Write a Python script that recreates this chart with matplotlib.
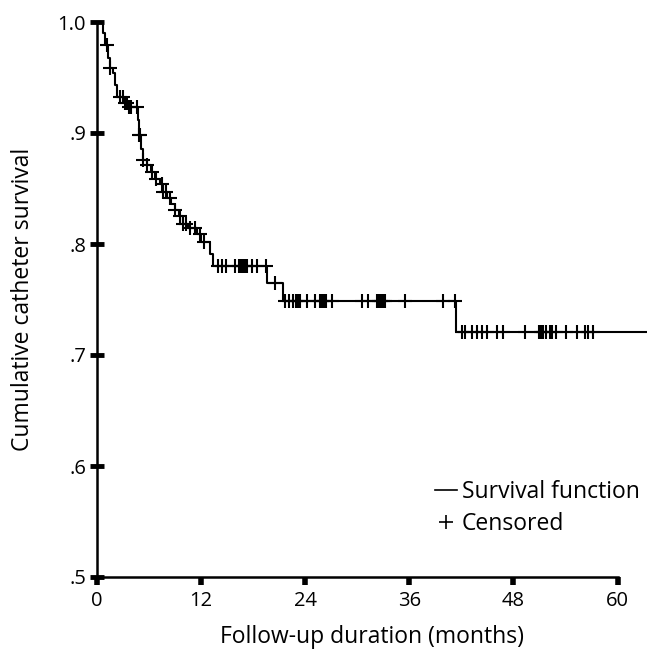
import matplotlib.pyplot as plt
from matplotlib.lines import Line2D
import numpy as np

# Kaplan-Meier steps (months, survival after the step)
event_months = [0, 0.7, 0.95, 1.25, 1.5, 1.85, 2.05, 2.3, 3.1, 3.55, 4.7, 4.85,
                5.05, 5.3, 5.75, 6.2, 6.7, 7.25, 7.6, 8.05, 8.5, 9.0, 9.45, 9.9,
                10.5, 11.5, 12.0, 13.0, 13.35, 19.6, 21.4, 41.4]
survival = [1.0, 0.990, 0.979, 0.968, 0.959, 0.954, 0.943, 0.932, 0.927, 0.923,
            0.912, 0.898, 0.886, 0.876, 0.871, 0.865, 0.859, 0.854, 0.847, 0.841,
            0.836, 0.831, 0.825, 0.818, 0.814, 0.809, 0.802, 0.791, 0.780, 0.765,
            0.749, 0.721]
last_month = 63.4

# censored observations (months)
censored_months = [1.15, 1.5, 2.65, 3.0, 3.2, 3.45, 3.7, 3.9, 4.6, 4.85, 4.95,
                   5.3, 5.75, 6.3, 6.8, 7.5, 7.6, 7.95, 8.4, 9.0, 9.55, 9.9,
                   10.25, 10.7, 11.3, 11.85, 12.3,
                   13.95, 14.4, 14.85, 15.9, 16.35, 16.6, 16.8, 17.05, 17.3,
                   17.85, 18.45, 19.5, 20.5,
                   21.65, 22.1, 22.6, 22.9, 23.15, 23.4, 24.2, 25.1, 25.7, 25.9,
                   26.15, 26.4, 27.05, 30.5, 31.2, 32.25, 32.5, 32.7, 32.95,
                   33.2, 35.5, 39.85, 41.3,
                   42.05, 42.4, 43.2, 43.8, 44.35, 44.95, 46.1, 46.75, 49.3,
                   50.9, 51.15, 51.4, 51.7, 52.2, 52.5, 52.95, 54.1, 55.35,
                   56.3, 56.55, 57.15]

x_ticks = [0, 12, 24, 36, 48, 60]
y_ticks = [0.5, 0.6, 0.7, 0.8, 0.9, 1.0]
y_tick_labels = ['.5', '.6', '.7', '.8', '.9', '1.0']

plt.rcParams['font.family'] = ['Open Sans', 'DejaVu Sans']

fig = plt.figure(figsize=(6.47, 6.54), dpi=100)
ax = fig.add_axes([97 / 647, 77 / 654, 550 / 647, 555 / 654])

t = np.array(event_months + [last_month])
s = np.array(survival + [survival[-1]])
ax.step(t, s, where='post', color='black', lw=1.5, clip_on=False, zorder=3)

idx = np.searchsorted(event_months, censored_months, side='right') - 1
cens_s = np.array(survival)[idx]
ax.plot(censored_months, cens_s, linestyle='none', marker='+', color='black',
        markersize=10, markeredgewidth=1.5, clip_on=False, zorder=3)

ax.set_xlim(0, last_month)
ax.set_ylim(0.5, 1.0)

for side in ['top', 'right']:
    ax.spines[side].set_visible(False)
ax.spines['left'].set_linewidth(1.8)
ax.spines['bottom'].set_linewidth(1.8)
ax.spines['bottom'].set_bounds(0, 60)

ax.set_xticks(x_ticks)
ax.set_xticklabels([str(v) for v in x_ticks])
ax.set_yticks(y_ticks)
ax.set_yticklabels(y_tick_labels)
ax.tick_params(axis='y', direction='inout', length=10, width=3.5, pad=3,
               labelsize=14.5)
ax.tick_params(axis='x', direction='out', length=6, width=4, pad=4,
               labelsize=14.5)

ax.set_xlabel('Follow-up duration (months)', fontsize=16.5, labelpad=10)
ax.set_ylabel('Cumulative catheter survival', fontsize=16.5, labelpad=16)

handles = [Line2D([], [], color='black', lw=1.2),
           Line2D([], [], color='black', linestyle='none', marker='+',
                  markersize=10, markeredgewidth=1.2)]
ax.legend(handles, ['Survival function', 'Censored'], loc='lower left',
          bbox_to_anchor=(0.597, 0.058), frameon=False, fontsize=16.5,
          handlelength=1.0, handletextpad=0.2, labelspacing=0.35,
          borderaxespad=0)

fig.savefig('out.png', dpi=100)
